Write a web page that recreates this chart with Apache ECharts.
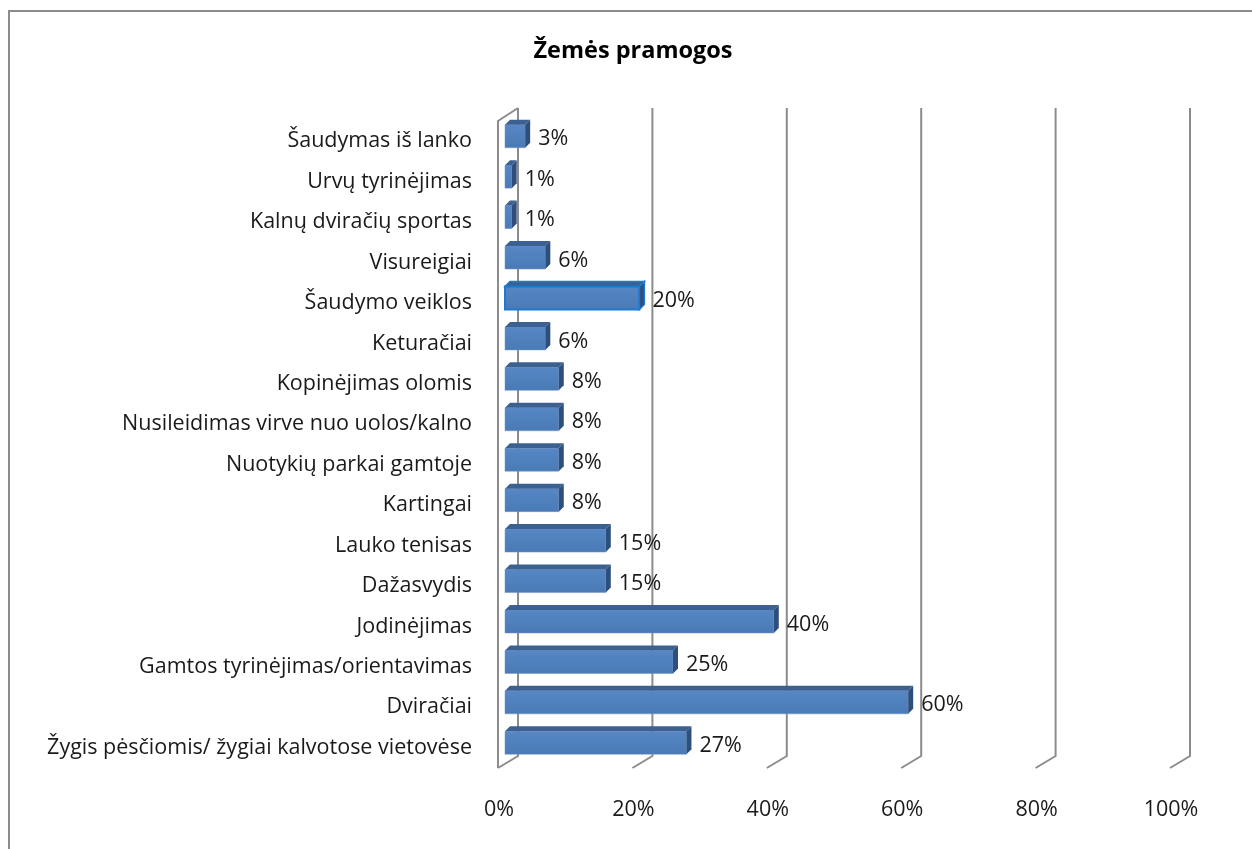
<!DOCTYPE html>
<html lang="lt">
<head>
<meta charset="UTF-8">
<title>Žemės pramogos</title>
<script src="https://cdn.jsdelivr.net/npm/echarts@6.0.0/dist/echarts.min.js"></script>
<style>
  html, body { margin: 0; padding: 0; background: #fff; }
  #chart { width: 1252px; height: 849px; }
</style>
</head>
<body>
<div id="chart"></div>
<script>
// kategorijos nuo apačios į viršų
const categories = [
  "Žygis pėsčiomis/ žygiai kalvotose vietovėse",
  "Dviračiai",
  "Gamtos tyrinėjimas/orientavimas",
  "Jodinėjimas",
  "Dažasvydis",
  "Lauko tenisas",
  "Kartingai",
  "Nuotykių parkai gamtoje",
  "Nusileidimas virve nuo uolos/kalno",
  "Kopinėjimas olomis",
  "Keturačiai",
  "Šaudymo veiklos",
  "Visureigiai",
  "Kalnų dviračių sportas",
  "Urvų tyrinėjimas",
  "Šaudymas iš lanko"
];
const values = [27, 60, 25, 40, 15, 15, 8, 8, 8, 8, 6, 20, 6, 1, 1, 3];
const highlighted = "Šaudymo veiklos";
const ticks = [0, 20, 40, 60, 80, 100];

const FONT = "Open Sans";
const FS = 21.5;

const chart = echarts.init(document.getElementById("chart"));

// 3D stulpelis: priekis, viršus, šonas
function renderBar(params, api) {
  const v = api.value(0);
  const idx = api.value(1);
  const p0 = api.coord([0, idx]);
  const p1 = api.coord([v, idx]);
  const x0 = p0[0], x1 = p1[0], c = p0[1];
  const top = c - 16.5, h = 23, d = 5;
  const sel = categories[idx] === highlighted;
  return {
    type: "group",
    children: [
      {
        type: "rect",
        shape: { x: x0, y: top, width: x1 - x0, height: h },
        style: {
          fill: new echarts.graphic.LinearGradient(0, 0, 0, 1, [
            { offset: 0, color: "#5787c5" },
            { offset: 0.5, color: "#4f81bd" },
            { offset: 1, color: "#4a7ab5" }
          ]),
          stroke: sel ? "#1f78d1" : "#6f95c6",
          lineWidth: sel ? 2 : 0.5
        }
      },
      {
        type: "polygon",
        shape: { points: [[x0, top], [x0 + d, top - d], [x1 + d, top - d], [x1, top]] },
        style: { fill: "#3c6090", stroke: sel ? "#1f78d1" : null, lineWidth: sel ? 1.5 : 0 }
      },
      {
        type: "polygon",
        shape: { points: [[x1, top], [x1 + d, top - d], [x1 + d, top + h - d], [x1, top + h]] },
        style: { fill: "#2e4f7c", stroke: sel ? "#1f78d1" : null, lineWidth: sel ? 1.5 : 0 }
      },
      {
        type: "text",
        style: {
          x: x1 + 13, y: c - 2,
          text: v + "%",
          fill: "#1a1a1a",
          font: FS + "px '" + FONT + "'",
          verticalAlign: "middle",
          align: "left"
        }
      }
    ]
  };
}

// sienos ir tinklelio linijos (pseudo 3D)
function renderWall(params, api) {
  const v = api.value(0);
  const cs = params.coordSys;
  const x = api.coord([v, 0])[0];
  const yTop = cs.y, yBot = cs.y + cs.height;
  const style = { stroke: "#8c8c8c", lineWidth: 2, fill: null };
  const children = [
    { type: "polyline", shape: { points: [[x + 13, yTop - 13], [x + 13, yBot - 12], [x - 7, yBot]] }, style: style }
  ];
  if (v === 0) {
    children.push({
      type: "polyline",
      shape: { points: [[x + 13, yTop - 13], [x - 7, yTop], [x - 7, yBot]] },
      style: style
    });
  }
  return { type: "group", children: children };
}

chart.setOption({
  backgroundColor: "#fff",
  animation: false,
  title: {
    text: "Žemės pramogos",
    left: 628,
    top: 34,
    textAlign: "center",
    textStyle: { fontFamily: FONT, fontSize: 23.5, fontWeight: "bold", color: "#000" }
  },
  graphic: [
    {
      type: "rect",
      shape: { x: 9, y: 11, width: 1300, height: 900 },
      style: { fill: null, stroke: "#8c8c8c", lineWidth: 2 },
      silent: true
    }
  ],
  grid: { left: 505, width: 672, top: 121, bottom: 81 },
  xAxis: {
    type: "value",
    min: 0,
    max: 100,
    interval: 20,
    axisLine: { show: false },
    axisTick: { show: false },
    splitLine: { show: false },
    axisLabel: {
      formatter: "{value}%",
      margin: 31,
      padding: [0, 12, 0, 0],
      fontFamily: FONT,
      fontSize: FS,
      color: "#1a1a1a"
    }
  },
  yAxis: {
    type: "category",
    data: categories,
    axisLine: { show: false },
    axisTick: { show: false },
    splitLine: { show: false },
    axisLabel: {
      margin: 33,
      fontFamily: FONT,
      fontSize: FS,
      color: "#1a1a1a"
    }
  },
  series: [
    {
      type: "custom",
      name: "walls",
      renderItem: renderWall,
      data: ticks.map(t => [t, 0]),
      encode: { x: 0, y: 1 },
      silent: true,
      z: 1
    },
    {
      type: "custom",
      name: "Žemės pramogos",
      renderItem: renderBar,
      data: values.map((v, i) => [v, i]),
      encode: { x: 0, y: 1 },
      z: 2
    }
  ]
});
</script>
</body>
</html>
